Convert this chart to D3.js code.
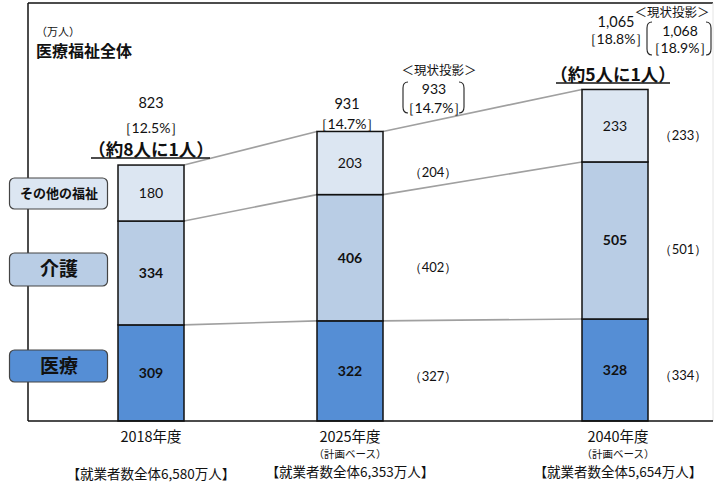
<!DOCTYPE html>
<html><head><meta charset="utf-8">
<script src="https://cdn.jsdelivr.net/npm/d3@7"></script>
<style>
body{margin:0;background:#fff;}
svg{display:block;}
text{font-family:"Noto Sans CJK JP","Noto Sans",sans-serif;fill:#111;}
.num{font-family:Lato,"Open Sans",sans-serif;}
</style></head>
<body>
<svg id="c" width="722" height="486"></svg>
<script>
const years = ["2018年度","2025年度","2040年度"];
const subLabels = ["","（計画ベース）","（計画ベース）"];
const workforce = ["【就業者数全体6,580万人】","【就業者数全体6,353万人】","【就業者数全体5,654万人】"];
const medical = [309,322,328];
const care = [334,406,505];
const other = [180,203,233];
const totals = ["823","931","1,065"];
const shares = ["［12.5%］","［14.7%］","［18.8%］"];
const ratios = ["（約8人に1人）","","（約5人に1人）"];
const projMedical = [null,327,334];
const projCare = [null,402,501];
const projOther = [null,204,233];
const projTotal = [null,"933","1,068"];
const projShare = [null,"［14.7%］","［18.9%］"];
const seriesNames = ["医療","介護","その他の福祉"];
const colors = ["#558ed5","#b9cde5","#dce6f2"];

const svg = d3.select("#c");
const x = d3.scaleOrdinal().domain(years).range([151,350,615]);
const y = d3.scaleLinear().domain([0,1000]).range([421,110]);
const bw = 66;

// frame
svg.append("line").attr("x1",28).attr("x2",713).attr("y1",3).attr("y2",3).attr("stroke","#111").attr("stroke-width",1.5);
svg.append("line").attr("x1",713).attr("x2",713).attr("y1",3).attr("y2",421).attr("stroke","#e4e4e4").attr("stroke-width",1);
svg.append("line").attr("x1",28).attr("x2",28).attr("y1",3).attr("y2",421).attr("stroke","#111").attr("stroke-width",1.5);

const data = years.map((yr,i)=>({year:yr,medical:medical[i],care:care[i],other:other[i]}));
const stack = d3.stack().keys(["medical","care","other"])(data);

// connector lines
stack.forEach(layer=>{
  for(let i=0;i<years.length-1;i++){
    svg.append("line")
      .attr("x1",x(years[i])+bw/2).attr("y1",y(layer[i][1]))
      .attr("x2",x(years[i+1])-bw/2).attr("y2",y(layer[i+1][1]))
      .attr("stroke","#a0a0a0").attr("stroke-width",1.6);
  }
});

// bars
stack.forEach((layer,k)=>{
  svg.append("g").selectAll("rect").data(layer).join("rect")
    .attr("x",(d,i)=>x(years[i])-bw/2).attr("width",bw)
    .attr("y",d=>y(d[1])).attr("height",d=>y(d[0])-y(d[1]))
    .attr("fill",colors[k]).attr("stroke","#111").attr("stroke-width",1.5);
  svg.append("g").selectAll("text").data(layer).join("text")
    .attr("class","num")
    .attr("x",(d,i)=>x(years[i])).attr("y",d=>(y(d[0])+y(d[1]))/2+5)
    .attr("text-anchor","middle").attr("font-size",14)
    .attr("font-weight",k===2?"normal":"bold")
    .text(d=>d[1]-d[0]);
});

// axis line
svg.append("line").attr("x1",28).attr("x2",713).attr("y1",421).attr("y2",421).attr("stroke","#111").attr("stroke-width",1.5);

// projection labels
const projArr = [projMedical,projCare,projOther];
const projOffset = [5,9,9];
stack.forEach((layer,k)=>{
  layer.forEach((d,i)=>{
    if(projArr[k][i]==null) return;
    const px = i===1 ? x(years[i])+83 : x(years[i])+68;
    svg.append("text").attr("class","num").attr("x",px)
      .attr("y",(y(d[0])+y(d[1]))/2+projOffset[k]+5)
      .attr("text-anchor","middle").attr("font-size",13)
      .text("（"+projArr[k][i]+"）");
  });
});

// title
svg.append("text").attr("x",36).attr("y",36).attr("font-size",11).text("（万人）");
svg.append("text").attr("x",36).attr("y",57).attr("font-size",16).attr("font-weight","bold").text("医療福祉全体");

// totals / shares
const totPos = [{x:151,y1:108,y2:133},{x:347,y1:109,y2:129},{x:616,y1:27,y2:44}];
totals.forEach((t,i)=>{
  svg.append("text").attr("class","num").attr("x",totPos[i].x).attr("y",totPos[i].y1)
    .attr("text-anchor","middle").attr("font-size",14.5).text(t);
  svg.append("text").attr("class","num").attr("x",totPos[i].x).attr("y",totPos[i].y2)
    .attr("text-anchor","middle").attr("font-size",14).text(shares[i]);
});

// ratio labels
const ratioPos = [{x:151,y:156,x1:91,x2:210,uy:158},null,{x:613,y:81,x1:556,x2:670,uy:83}];
ratios.forEach((r,i)=>{
  if(!r) return;
  const p = ratioPos[i];
  svg.append("text").attr("x",p.x).attr("y",p.y).attr("text-anchor","middle")
    .attr("font-size",17.5).attr("font-weight","bold").text(r);
  svg.append("line").attr("x1",p.x1).attr("x2",p.x2).attr("y1",p.uy).attr("y2",p.uy)
    .attr("stroke","#111").attr("stroke-width",1.5);
});

// projection annotations
const annPos = [null,{cx:434,head:439,hy:75,y1:94,y2:113,l:403,r:464,top:82,bot:113},
  {cx:680,head:672,hy:17,y1:36,y2:53,l:647,r:711,top:22,bot:55}];
function paren(xp,top,bot,dir){
  const p = d3.path();
  p.moveTo(xp+dir*5,top); p.quadraticCurveTo(xp,top,xp,top+6);
  p.lineTo(xp,bot-6); p.quadraticCurveTo(xp,bot,xp+dir*5,bot);
  svg.append("path").attr("d",p.toString()).attr("fill","none").attr("stroke","#222").attr("stroke-width",1.1);
}
projTotal.forEach((t,i)=>{
  if(t==null) return;
  const a = annPos[i];
  svg.append("text").attr("x",a.head).attr("y",a.hy).attr("text-anchor","middle").attr("font-size",12.5).text("＜現状投影＞");
  svg.append("text").attr("class","num").attr("x",a.cx).attr("y",a.y1).attr("text-anchor","middle").attr("font-size",14).text(t);
  svg.append("text").attr("class","num").attr("x",a.cx).attr("y",a.y2).attr("text-anchor","middle").attr("font-size",14).text(projShare[i]);
  paren(a.l,a.top,a.bot,1);
  paren(a.r,a.top,a.bot,-1);
});

// legend boxes
const legPos = [{y:350,h:32,fs:19},{y:253,h:33,fs:19},{y:178,h:31,fs:13}];
seriesNames.forEach((n,k)=>{
  const p = legPos[k];
  svg.append("rect").attr("x",9.5).attr("y",p.y).attr("width",98).attr("height",p.h)
    .attr("rx",5).attr("fill",colors[k]).attr("stroke","#444").attr("stroke-width",1.2);
  svg.append("text").attr("x",59).attr("y",p.y+p.h/2+p.fs*0.36).attr("text-anchor","middle")
    .attr("font-size",p.fs).attr("font-weight","bold").text(n);
});

// x labels
years.forEach((yr,i)=>{
  const cx = x(yr)+(i===2?3:0);
  svg.append("text").attr("x",cx).attr("y",442).attr("text-anchor","middle").attr("font-size",14.5).text(yr);
  if(subLabels[i]) svg.append("text").attr("x",cx).attr("y",458).attr("text-anchor","middle").attr("font-size",10.5).text(subLabels[i]);
  svg.append("text").attr("x",cx).attr("y",i===0?479:477).attr("text-anchor","middle").attr("font-size",13.5).text(workforce[i]);
});
</script>
</body></html>
